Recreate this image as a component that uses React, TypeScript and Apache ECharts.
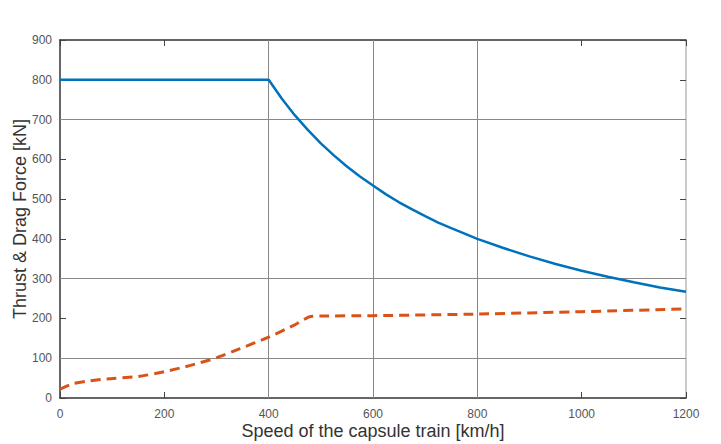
import React, { useEffect, useRef } from "react";
import * as echarts from "echarts";

const thrustSpeed = [0, 400, 425, 450, 475, 500, 525, 550, 575, 600, 625, 650, 675, 700, 725, 750, 800, 850, 900, 950, 1000, 1050, 1100, 1150, 1200];
const thrustValues = [800, 800, 753, 711, 674, 640, 610, 582, 557, 534, 512, 492, 474, 457, 441, 427, 400, 377, 356, 337, 320, 305, 291, 278, 267];

const dragSpeed = [0, 25, 50, 90, 150, 200, 250, 300, 345, 400, 450, 480, 500, 600, 800, 1000, 1200];
const dragValues = [22, 36, 42, 48, 54, 66, 82, 101, 124, 153, 184, 205, 206, 207, 211, 217, 224];

const gridX = [400, 600, 800];
const gridY = [100, 300, 700];

const xName = "Speed of the capsule train [km/h]";
const yName = "Thrust & Drag Force [kN]";

export default function App() {
  const ref = useRef<HTMLDivElement>(null);
  useEffect(() => {
    if (!ref.current) return;
    const chart = echarts.init(ref.current, undefined, { renderer: "svg" });
    const font = "Liberation Sans, Arial, sans-serif";
    const tick = () => ({ show: true, inside: true, length: 6, lineStyle: { color: "#444", width: 1 } });
    const line = (color: string) => ({ show: true, onZero: false, lineStyle: { color, width: 1.5 } });
    const labelStyle = () => ({
      fontFamily: font,
      fontSize: 12,
      color: "#555",
      margin: 10,
      formatter: (v: number) => String(v),
    });
    chart.setOption({
      animation: false,
      grid: {
        left: 60,
        right: 35,
        top: 40,
        bottom: 46,
        containLabel: false,
        outerBoundsMode: "none",
      },
      xAxis: [
        {
          type: "value",
          position: "bottom",
          min: 0,
          max: 1200,
          interval: 200,
          name: xName,
          nameLocation: "middle",
          nameGap: 24,
          nameMoveOverlap: false,
          nameTextStyle: { fontFamily: font, fontSize: 18, color: "#333" },
          axisLine: line("#333"),
          axisTick: tick(),
          splitLine: { show: false },
          axisLabel: labelStyle(),
        },
        {
          type: "value",
          position: "top",
          min: 0,
          max: 1200,
          interval: 200,
          axisLine: line("#333"),
          axisTick: tick(),
          splitLine: { show: false },
          axisLabel: { show: false },
        },
      ],
      yAxis: [
        {
          type: "value",
          position: "left",
          min: 0,
          max: 900,
          interval: 100,
          name: yName,
          nameLocation: "middle",
          nameGap: 31,
          nameMoveOverlap: false,
          nameTextStyle: { fontFamily: font, fontSize: 18, color: "#333" },
          axisLine: line("#333"),
          axisTick: tick(),
          splitLine: { show: false },
          axisLabel: { ...labelStyle(), margin: 8 },
        },
        {
          type: "value",
          position: "right",
          min: 0,
          max: 900,
          interval: 100,
          axisLine: line("#bbb"),
          axisTick: tick(),
          splitLine: { show: false },
          axisLabel: { show: false },
        },
      ],
      series: [
        {
          type: "line",
          data: thrustSpeed.map((s, i) => [s, thrustValues[i]]),
          showSymbol: false,
          smooth: false,
          lineStyle: { color: "#0072BD", width: 2.5 },
          z: 5,
          markLine: {
            silent: true,
            symbol: "none",
            label: { show: false },
            lineStyle: { color: "#888", width: 1, type: "solid" },
            data: [
              ...gridX.map((v) => ({ xAxis: v })),
              ...gridY.map((v) => ({ yAxis: v })),
            ],
            z: 1,
          },
        },
        {
          type: "line",
          data: dragSpeed.map((s, i) => [s, dragValues[i]]),
          showSymbol: false,
          smooth: 0.2,
          lineStyle: { color: "#D95319", width: 3, type: [10, 6] },
          z: 5,
        },
      ],
    });
    return () => chart.dispose();
  }, []);
  return <div ref={ref} style={{ width: 721, height: 444, position: "absolute", left: 0, top: 0 }} />;
}
